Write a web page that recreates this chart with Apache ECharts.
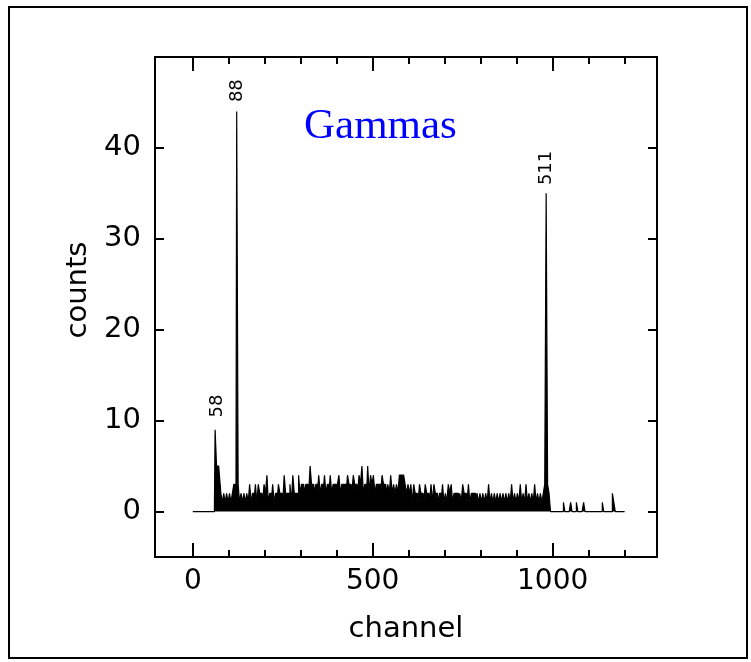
<!DOCTYPE html>
<html>
<head>
<meta charset="utf-8">
<script src="https://cdn.jsdelivr.net/npm/echarts@6/dist/echarts.min.js"></script>
<style>
html, body { margin: 0; padding: 0; background: #fff; }
#chart { width: 751px; height: 662px; }
</style>
</head>
<body>
<div id="chart"></div>
<script>
// counts per 4-channel bin, channel 0 .. 1200
var binWidth = 4;
var counts = [
  0,0,0,0,0,0,0,0,0,0,0,0,0,0,0,0,9,5,5,4,
  2,1,2,1,2,1,2,1,2,3,3,44,3,1,2,1,2,1,2,1,
  3,1,2,2,3,1,3,2,2,1,3,2,4,1,2,2,3,1,2,2,
  3,2,2,1,4,2,2,2,3,1,4,2,2,2,4,2,3,3,2,3,
  3,2,5,3,3,2,3,3,4,2,3,3,4,2,3,3,4,2,3,3,
  3,3,4,2,3,3,3,2,4,3,3,2,4,3,3,2,4,3,5,2,
  3,3,5,2,4,3,4,2,3,3,3,2,4,3,3,2,3,2,4,2,
  3,2,3,2,4,4,4,4,3,2,3,2,3,1,3,2,2,1,3,2,
  2,1,3,2,2,1,3,1,3,2,2,1,2,2,3,1,2,1,3,2,
  3,1,2,2,2,1,2,1,3,2,2,1,3,1,2,2,2,1,2,1,
  2,1,2,1,2,1,3,1,2,1,2,1,2,1,2,1,2,1,2,1,
  2,1,3,1,2,1,2,1,3,1,2,1,3,1,2,1,2,1,3,1,
  2,1,2,1,2,3,35,3,2,0,0,0,0,0,0,0,0,0,1,0,
  0,0,0,1,0,0,0,1,0,0,0,0,1,0,0,0,0,0,0,0,
  0,0,0,0,0,1,0,0,0,0,0,0,2,1,0,0,0,0,0,0,
  0
];

var peakNames = ['58', '88', '511'];
var peakChannels = [67, 123, 983];
var peakLabelCounts = [11.6, 46.3, 37.8];

var xMajorTicks = [0, 500, 1000];
var xMinorTicks = [100, 200, 300, 400, 600, 700, 800, 900, 1100, 1200];
var yTicks = [0, 10, 20, 30, 40];

var spectrum = counts.map(function (c, i) { return [i * binWidth, c]; });
var peakMarks = peakNames.map(function (n, i) {
  return { name: n, coord: [peakChannels[i], peakLabelCounts[i]] };
});

var black = '#000';
var sans = 'DejaVu Sans';

function xAxis(pos, ticks, len, withLabels) {
  return {
    type: 'value', position: pos, min: -105, max: 1290,
    axisLine: { show: true, onZero: false, lineStyle: { color: black, width: 2 } },
    axisTick: { show: true, inside: true, length: len, customValues: ticks,
      lineStyle: { color: black, width: 2 } },
    axisLabel: withLabels
      ? { show: true, customValues: ticks, color: black, fontSize: 28, fontFamily: sans, margin: 11,
          formatter: function (v) { return String(v); } }
      : { show: false },
    splitLine: { show: false }
  };
}
function yAxis(pos, withLabels) {
  return {
    type: 'value', position: pos, min: -5, max: 50,
    axisLine: { show: true, onZero: false, lineStyle: { color: black, width: 2 } },
    axisTick: { show: true, inside: true, length: 9, customValues: yTicks,
      lineStyle: { color: black, width: 2 } },
    axisLabel: withLabels
      ? { show: true, customValues: yTicks, color: black, fontSize: 29, fontFamily: sans, margin: 14 }
      : { show: false },
    splitLine: { show: false }
  };
}

var xs = [
  xAxis('bottom', xMajorTicks, 14, true),
  xAxis('bottom', xMinorTicks, 7, false),
  xAxis('top', xMajorTicks, 14, false),
  xAxis('top', xMinorTicks, 7, false)
];
xs[0].name = 'channel';
xs[0].nameLocation = 'middle';
xs[0].nameGap = 58;
xs[0].nameTextStyle = { color: black, fontSize: 29, fontFamily: sans };

var ys = [yAxis('left', true), yAxis('right', false)];
ys[0].name = 'counts';
ys[0].nameLocation = 'middle';
ys[0].nameGap = 59;
ys[0].nameTextStyle = { color: black, fontSize: 29, fontFamily: sans, padding: [0, 0, 0, 34] };

var chart = echarts.init(document.getElementById('chart'));
chart.setOption({
  animation: false,
  backgroundColor: '#fff',
  title: {
    text: 'Gammas', left: 299, top: 100,
    textStyle: { color: '#0000ff', fontFamily: 'Liberation Serif', fontSize: 43, fontWeight: 'normal' }
  },
  graphic: [{
    type: 'rect', shape: { x: 9, y: 7, width: 738, height: 651 },
    style: { fill: 'none', stroke: black, lineWidth: 2 }
  }],
  grid: { left: 155, top: 57, right: 94, bottom: 105 },
  xAxis: xs,
  yAxis: ys,
  series: [{
    type: 'line',
    data: spectrum,
    step: 'middle',
    showSymbol: false,
    lineStyle: { color: black, width: 1.2 },
    areaStyle: { color: black, opacity: 1 },
    itemStyle: { color: black },
    markPoint: {
      symbol: 'circle', symbolSize: 0,
      label: { show: true, position: 'inside', rotate: 90, formatter: '{b}',
        color: black, fontSize: 18, fontFamily: sans },
      data: peakMarks
    }
  }]
});
</script>
</body>
</html>
